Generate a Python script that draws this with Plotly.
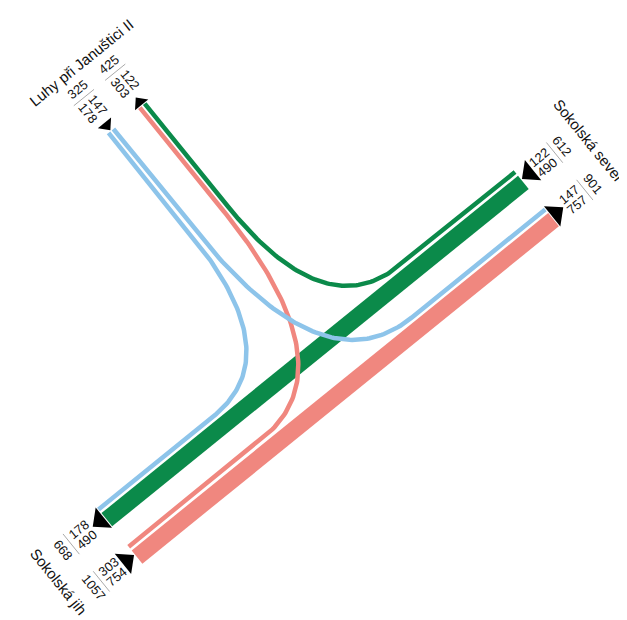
import numpy as np
import plotly.graph_objects as go

# ---------------- data ----------------
JIH, SEVER, LUHY = "Sokolská jih", "Sokolská sever", "Luhy při Januštici II"
arm_names = [JIH, SEVER, LUHY]

# movements: origin -> destination, vehicles
flow_origin = [JIH, JIH, SEVER, SEVER, LUHY, LUHY]
flow_dest = [SEVER, LUHY, JIH, LUHY, JIH, SEVER]
flow_volume = [757, 303, 490, 122, 178, 147]

# labels at the arm ends (top line first), per arm in arm_names order
entering_parts = [[303, 754], [122, 490], [147, 178]]
entering_total = [1057, 612, 325]
exiting_parts = [[178, 490], [147, 757], [122, 303]]
exiting_total = [668, 901, 425]

# colour of a movement = its origin arm
arm_colors = {JIH: "#f0877f", SEVER: "#0b8a4a", LUHY: "#8dc4ea"}

# ---------------- geometry (layout only) ----------------
TH = np.deg2rad(39.0)
U = np.array([np.cos(TH), -np.sin(TH)])      # along main road, towards Sokolská sever
V = np.array([-np.sin(TH), -np.cos(TH)])     # along the side arm, towards Luhy
O = np.array([320.0, 359.0])
L_MAIN, L_SIDE = 268.0, 320.0

def P(a, b):
    return O + a * U + b * V

def width_of(v):
    return 17.0 if v >= 400 else 4.5

# lateral lane positions
B_UP_THIN, B_UP_THICK = 33.75, 20.5        # traffic towards jih
B_LO_THIN, B_LO_THICK = -14.25, -27.5      # traffic towards sever
A_IN_OUT, A_IN_INN = -23.25, -17.0         # traffic leaving Luhy
A_OUT_INN, A_OUT_OUT = 17.0, 23.25         # traffic towards Luhy
SIDE_REACH = 187.0
REACH_RIGHT, REACH_LEFT = 120.0, 96.0

def bez(s, c, e, n=80):
    t = np.linspace(0, 1, n)[:, None]
    s, c, e = map(np.array, (s, c, e))
    return (1 - t) ** 2 * s + 2 * t * (1 - t) * c + t ** 2 * e

def route(o, d):
    if o == JIH and d == SEVER:
        return np.array([(-L_MAIN, B_LO_THICK), (L_MAIN, B_LO_THICK)])
    if o == SEVER and d == JIH:
        return np.array([(L_MAIN, B_UP_THICK), (-L_MAIN, B_UP_THICK)])
    if o == JIH and d == LUHY:
        c = (A_OUT_INN, B_LO_THIN)
        s = (-REACH_LEFT, B_LO_THIN)
        e = (A_OUT_INN, SIDE_REACH)
        return np.array([(-L_MAIN, B_LO_THIN)] + list(bez(s, c, e)) + [(A_OUT_INN, L_SIDE)])
    if o == SEVER and d == LUHY:
        c = (A_OUT_OUT, B_UP_THIN)
        s = (REACH_RIGHT, B_UP_THIN)
        e = (A_OUT_OUT, SIDE_REACH)
        return np.array([(L_MAIN, B_UP_THIN)] + list(bez(s, c, e)) + [(A_OUT_OUT, L_SIDE)])
    if o == LUHY and d == JIH:
        c = (A_IN_OUT, B_UP_THIN)
        s = (A_IN_OUT, SIDE_REACH)
        e = (-REACH_RIGHT, B_UP_THIN)
        return np.array([(A_IN_OUT, L_SIDE)] + list(bez(s, c, e)) + [(-L_MAIN, B_UP_THIN)])
    if o == LUHY and d == SEVER:
        c = (A_IN_INN, B_LO_THIN)
        s = (A_IN_INN, SIDE_REACH)
        e = (REACH_LEFT, B_LO_THIN)
        return np.array([(A_IN_INN, L_SIDE)] + list(bez(s, c, e)) + [(L_MAIN, B_LO_THIN)])

fig = go.Figure()

# straight (heavy) movements first, then the turning ones on top
draw_order = [0, 2, 1, 4, 5, 3]
for i in draw_order:
    loc = route(flow_origin[i], flow_dest[i])
    xy = np.array([P(a, b) for a, b in loc])
    fig.add_trace(go.Scatter(x=xy[:, 0], y=xy[:, 1], mode="lines",
                             line=dict(color=arm_colors[flow_origin[i]],
                                       width=width_of(flow_volume[i])),
                             hoverinfo="skip", showlegend=False))

# ---------------- arm-end symbols and labels ----------------
FONT = "Liberation Sans, Arial, Helvetica, sans-serif"
deg = np.rad2deg(TH)

def arm_point(arm, dist, lat):
    if arm == JIH:
        return P(-dist, lat)
    if arm == SEVER:
        return P(dist, lat)
    return P(lat, dist)

UP_C = ((B_UP_THIN + 2.25) + (B_UP_THICK - 8.5)) / 2
LO_C = ((B_LO_THIN + 2.25) + (B_LO_THICK - 8.5)) / 2
groups = {
    JIH: [(UP_C, "exit"), (LO_C, "enter")],
    SEVER: [(UP_C, "enter"), (LO_C, "exit")],
    LUHY: [((A_IN_OUT + A_IN_INN) / 2, "enter"), ((A_OUT_INN + A_OUT_OUT) / 2, "exit")],
}

annotations = []
for k, arm in enumerate(arm_names):
    L = L_SIDE if arm == LUHY else L_MAIN
    stack_angle = 90 - deg if arm == LUHY else -deg
    total_angle = -deg if arm == LUHY else 90 - deg
    for lat, kind in groups[arm]:
        base = 26.0 if arm != LUHY else 17.0
        h = base * 0.55
        if kind == "exit":
            d_base, d_apex = L + 1, L + 1 + h
        else:
            d_base, d_apex = L + 1 + h, L + 1
        tri = np.array([arm_point(arm, d_base, lat - base / 2),
                        arm_point(arm, d_apex, lat),
                        arm_point(arm, d_base, lat + base / 2),
                        arm_point(arm, d_base, lat - base / 2)])
        fig.add_trace(go.Scatter(x=tri[:, 0], y=tri[:, 1], mode="lines", fill="toself",
                                 fillcolor="black", line=dict(width=0, color="black"),
                                 hoverinfo="skip", showlegend=False))
        if kind == "exit":
            parts, total = exiting_parts[k], exiting_total[k]
        else:
            parts, total = entering_parts[k], entering_total[k]
        for j, val in enumerate(parts):
            p = arm_point(arm, L + 28, lat + 6.5 - 13 * j)
            annotations.append(dict(x=p[0], y=p[1], text=str(val), textangle=stack_angle,
                                    showarrow=False, xanchor="center", yanchor="middle",
                                    font=dict(family=FONT, size=13, color="#111")))
        sep = np.array([arm_point(arm, L + 43, lat - 13), arm_point(arm, L + 43, lat + 13)])
        fig.add_trace(go.Scatter(x=sep[:, 0], y=sep[:, 1], mode="lines",
                                 line=dict(color="#aaaaaa", width=1),
                                 hoverinfo="skip", showlegend=False))
        p = arm_point(arm, L + 53, lat)
        annotations.append(dict(x=p[0], y=p[1], text=str(total), textangle=total_angle,
                                showarrow=False, xanchor="center", yanchor="middle",
                                font=dict(family=FONT, size=13, color="#111")))
    if arm == LUHY:
        p = arm_point(arm, L + 72, 0)
    elif arm == SEVER:
        p = arm_point(arm, L + 77, 12)
    else:
        p = arm_point(arm, L + 76, 3)
    annotations.append(dict(x=p[0], y=p[1], text=arm, textangle=total_angle,
                            showarrow=False, xanchor="center", yanchor="middle",
                            font=dict(family=FONT, size=15, color="#111")))

fig.update_layout(
    width=627, height=620, margin=dict(l=0, r=0, t=0, b=0),
    paper_bgcolor="white", plot_bgcolor="white",
    xaxis=dict(range=[0, 627], visible=False, fixedrange=True),
    yaxis=dict(range=[620, 0], visible=False, fixedrange=True),
    annotations=annotations, showlegend=False,
)
fig.write_html("out.html")
